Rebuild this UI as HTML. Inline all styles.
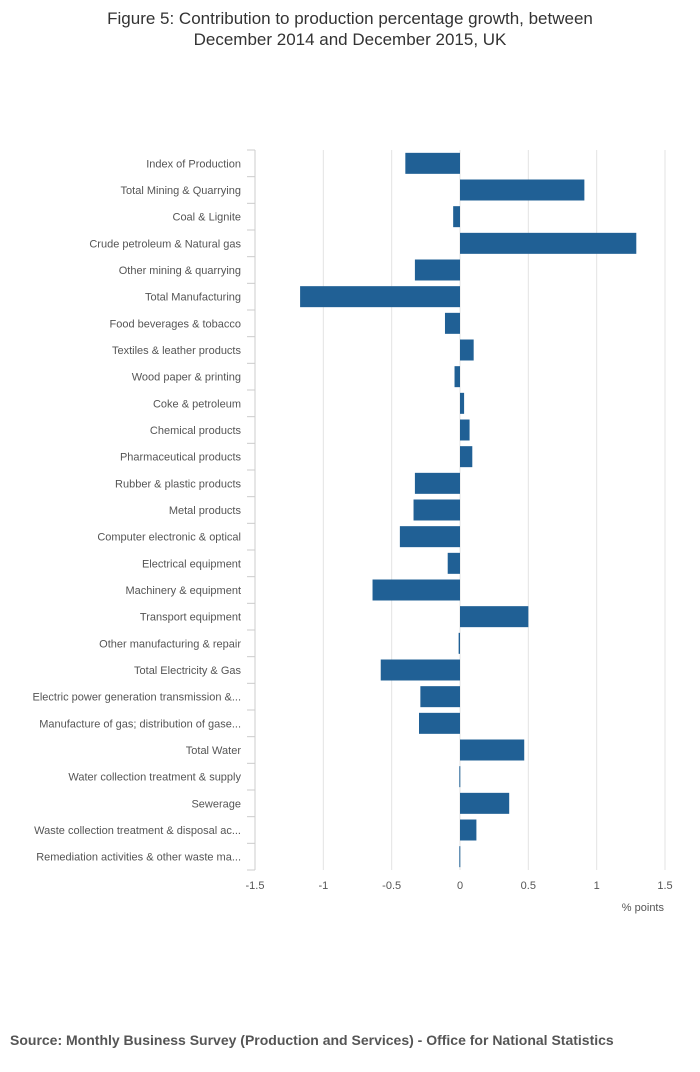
<!DOCTYPE html>
<html><head><meta charset="utf-8"><style>
body{margin:0;background:#fff;font-family:"Liberation Sans",sans-serif;}
</style></head><body>
<svg width="700" height="1067" xmlns="http://www.w3.org/2000/svg">
<text x="350" y="24" text-anchor="middle" font-size="17" fill="#333">Figure 5: Contribution to production percentage growth, between</text>
<text x="350" y="45" text-anchor="middle" font-size="17" fill="#333">December 2014 and December 2015, UK</text>
<g id="plot"></g>
<text x="664" y="911" text-anchor="end" font-size="11" fill="#555">% points</text>
<text x="10" y="1045" font-size="14" font-weight="bold" fill="#555">Source: Monthly Business Survey (Production and Services) - Office for National Statistics</text>
</svg>
<script>
const categories=["Index of Production","Total Mining & Quarrying","Coal & Lignite","Crude petroleum & Natural gas","Other mining & quarrying","Total Manufacturing","Food beverages & tobacco","Textiles & leather products","Wood paper & printing","Coke & petroleum","Chemical products","Pharmaceutical products","Rubber & plastic products","Metal products","Computer electronic & optical","Electrical equipment","Machinery & equipment","Transport equipment","Other manufacturing & repair","Total Electricity & Gas","Electric power generation transmission &...","Manufacture of gas; distribution of gase...","Total Water","Water collection treatment & supply","Sewerage","Waste collection treatment & disposal ac...","Remediation activities & other waste ma..."];
const values=[-0.40,0.91,-0.05,1.29,-0.33,-1.17,-0.11,0.10,-0.04,0.03,0.07,0.09,-0.33,-0.34,-0.44,-0.09,-0.64,0.50,-0.01,-0.58,-0.29,-0.30,0.47,-0.005,0.36,0.12,-0.005];
const ticks=[-1.5,-1,-0.5,0,0.5,1,1.5];
const tickLabels=["-1.5","-1","-0.5","0","0.5","1","1.5"];
const NS="http://www.w3.org/2000/svg";
const g=document.getElementById('plot');
const x0=255,x1=665,yTop=150,yBot=870;
const xs=v=>x0+(v+1.5)/3*(x1-x0);
const band=(yBot-yTop)/categories.length;
const yc=i=>yTop+band*(i+0.5);
function mk(t,a){const e=document.createElementNS(NS,t);for(const k in a)e.setAttribute(k,a[k]);g.appendChild(e);return e;}
ticks.forEach((t,i)=>{
 const gl=mk('line',{x1:xs(t),x2:xs(t),y1:yTop,y2:yBot,stroke:'#e3e3e3'});
 
 
 const tl=mk('text',{x:xs(t),y:yBot+19,'text-anchor':'middle','font-size':11,fill:'#555'});
 tl.textContent=tickLabels[i];
 
 
});
const ax=mk('line',{x1:x0,x2:x0,y1:yTop,y2:yBot,stroke:'#ccc'});


for(let i=0;i<=categories.length;i++){
 const tk=mk('line',{x1:x0-8,x2:x0,y1:yTop+band*i,y2:yTop+band*i,stroke:'#ccc'});
 
 
}
categories.forEach((c,i)=>{
 const t=mk('text',{x:241,y:yc(i)+4,'text-anchor':'end','font-size':11,fill:'#555'});
 t.textContent=c;
 
 
 const v=values[i];
 const a=Math.min(xs(0),xs(v)),w=Math.max(Math.abs(xs(v)-xs(0)),1);
 const r=mk('rect',{x:a,y:yc(i)-10.5,width:w,height:21,fill:'#206095'});
 
 
});
</script>
</body></html>
